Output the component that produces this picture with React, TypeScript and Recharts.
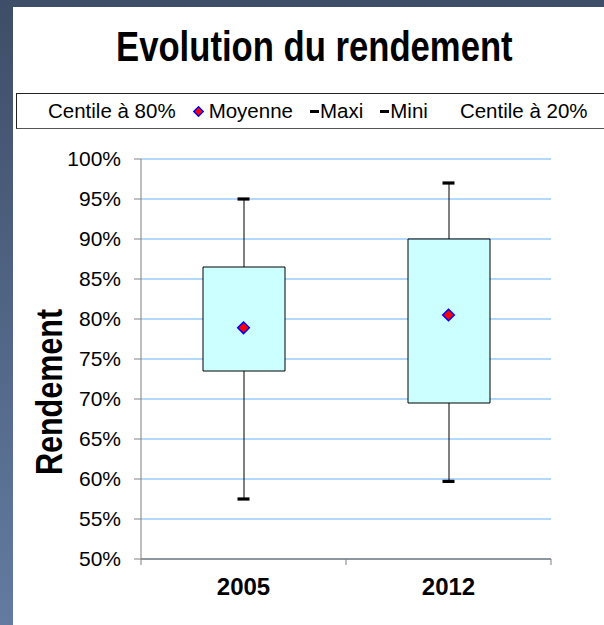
import { Bar, CartesianGrid, ComposedChart, Legend, Line, XAxis, YAxis } from "recharts";

const years = ["2005", "2012"];
const centile80 = [0.865, 0.9];
const moyenne = [0.789, 0.805];
const maxi = [0.95, 0.97];
const mini = [0.575, 0.597];
const centile20 = [0.735, 0.695];
const yTicks = [0.5, 0.55, 0.6, 0.65, 0.7, 0.75, 0.8, 0.85, 0.9, 0.95, 1];

const legendItems = [
  { label: "Centile à 80%", icon: "none" },
  { label: "Moyenne", icon: "diamond" },
  { label: "Maxi", icon: "dash" },
  { label: "Mini", icon: "dash" },
  { label: "Centile à 20%", icon: "none" }
];

const rows = years.map((year, i) => ({
  year,
  p80: centile80[i],
  mean: moyenne[i],
  max: maxi[i],
  min: mini[i],
  p20: centile20[i]
}));

const arial = "'Liberation Sans', Arial, sans-serif";
// no narrow face installed, so the bold titles get squeezed horizontally
const squeeze = 0.825;

function Diamond({ cx, cy }: any) {
  if (cx == null || cy == null) return null;
  const r = 5.8;
  return (
    <polygon
      points={`${cx},${cy - r} ${cx + r},${cy} ${cx},${cy + r} ${cx - r},${cy}`}
      fill="#ff0000"
      stroke="#0000ff"
      strokeWidth={1.5}
    />
  );
}

function Cap({ cx, cy }: any) {
  if (cx == null || cy == null) return null;
  return <rect x={cx - 6} y={cy - 1.6} width={12} height={3.2} fill="#000" />;
}

function Whisker({ x, y, width, height }: any) {
  const mid = x + width / 2;
  const top = Math.min(y, y + height);
  const bottom = Math.max(y, y + height);
  return <line x1={mid} x2={mid} y1={top} y2={bottom} stroke="#000" strokeWidth={1} />;
}

function YearTick({ x, y, payload, index }: any) {
  const half = payload?.offset ?? 0;
  const axisY = y - 19;
  return (
    <g>
      <line x1={x - half} x2={x - half} y1={axisY} y2={axisY + 6} stroke="#808080" />
      {index === years.length - 1 && (
        <line x1={x + half} x2={x + half} y1={axisY} y2={axisY + 6} stroke="#808080" />
      )}
      <text x={x} y={y} dy="0.71em" textAnchor="middle" fontSize={24} fontWeight="bold" fontFamily={arial} fill="#000">
        {payload.value}
      </text>
    </g>
  );
}

function LegendBox() {
  return (
    <div
      style={{
        boxSizing: "border-box",
        height: 36,
        borderTop: "1px solid #222",
        borderLeft: "1px solid #222",
        borderBottom: "1px solid #555",
        display: "flex",
        alignItems: "center",
        paddingLeft: 16,
        gap: 17,
        fontFamily: arial,
        fontSize: 20.5,
        color: "#000",
        whiteSpace: "nowrap"
      }}
    >
      {legendItems.map((item) => (
        <div key={item.label} style={{ display: "flex", alignItems: "center" }}>
          {item.icon === "diamond" && (
            <svg width={11} height={11} style={{ marginRight: 5 }}>
              <polygon points="5.5,0.8 10.2,5.5 5.5,10.2 0.8,5.5" fill="#ff0000" stroke="#0000ff" strokeWidth={1.4} />
            </svg>
          )}
          {item.icon === "dash" && <span style={{ width: 9, height: 3, background: "#000", marginRight: 1 }} />}
          {item.icon === "none" && <span style={{ width: 11, marginRight: 4 }} />}
          <span>{item.label}</span>
        </div>
      ))}
    </div>
  );
}

export default function App() {
  return (
    <div
      style={{
        position: "absolute",
        left: 0,
        top: 0,
        width: 604,
        height: 625,
        overflow: "hidden",
        background: "linear-gradient(to bottom, #3e4e68, #637ba1)"
      }}
    >
      <div style={{ position: "absolute", left: 13, top: 7, width: 591, height: 618, background: "#fff" }} />
      <div
        style={{
          position: "absolute",
          left: 19,
          top: 26,
          width: 591,
          textAlign: "center",
          fontFamily: arial,
          fontWeight: "bold",
          fontSize: 42,
          lineHeight: "42px",
          color: "#000"
        }}
      >
        <span style={{ display: "inline-block", transform: `scaleX(${squeeze})`, transformOrigin: "center" }}>
          Evolution du rendement
        </span>
      </div>
      <div style={{ position: "absolute", left: 0, top: 0 }}>
        <ComposedChart width={604} height={625} data={rows} margin={{ top: 159, right: 53, bottom: 0, left: 13 }}>
          <CartesianGrid vertical={false} stroke="#99ccff" strokeWidth={1.3} />
          <XAxis
            xAxisId="box"
            dataKey="year"
            height={66}
            tickLine={false}
            tickSize={6}
            tickMargin={13}
            axisLine={{ stroke: "#808080", strokeWidth: 1.5 }}
            tick={<YearTick />}
          />
          <XAxis xAxisId="w" dataKey="year" hide />
          <YAxis
            width={128}
            domain={[0.5, 1]}
            ticks={yTicks}
            tickSize={7}
            tickMargin={13}
            tickFormatter={(v: number) => `${Math.round(v * 100)}%`}
            tick={{ fill: "#000", fontSize: 21, fontFamily: arial }}
            axisLine={{ stroke: "#808080" }}
            tickLine={{ stroke: "#808080" }}
            label={({ viewBox }: any) => (
              <text
                x={0}
                y={0}
                transform={`translate(${viewBox.x + 48.5} ${viewBox.y + 233}) rotate(-90) scale(${squeeze} 1)`}
                textAnchor="middle"
                fontFamily={arial}
                fontWeight="bold"
                fontSize={37}
                fill="#000"
              >
                Rendement
              </text>
            )}
          />
          <Legend
            verticalAlign="middle"
            align="center"
            layout="horizontal"
            wrapperStyle={{ left: 16, top: 93, width: 588, height: 36 }}
            content={() => <LegendBox />}
          />
          <Bar
            xAxisId="w"
            dataKey={(d: any) => [d.min, d.max]}
            barSize={82}
            shape={<Whisker />}
            isAnimationActive={false}
            legendType="none"
          />
          <Bar
            xAxisId="box"
            dataKey={(d: any) => [d.p20, d.p80]}
            barSize={82}
            fill="#ccffff"
            stroke="#000"
            strokeWidth={1}
            isAnimationActive={false}
          />
          <Line xAxisId="box" dataKey="mean" name="Moyenne" stroke="none" dot={(p: any) => <Diamond key={`m${p.index}`} {...p} />} isAnimationActive={false} />
          <Line xAxisId="box" dataKey="max" name="Maxi" stroke="none" dot={(p: any) => <Cap key={`x${p.index}`} {...p} />} isAnimationActive={false} />
          <Line xAxisId="box" dataKey="min" name="Mini" stroke="none" dot={(p: any) => <Cap key={`n${p.index}`} {...p} />} isAnimationActive={false} />
        </ComposedChart>
      </div>
    </div>
  );
}
